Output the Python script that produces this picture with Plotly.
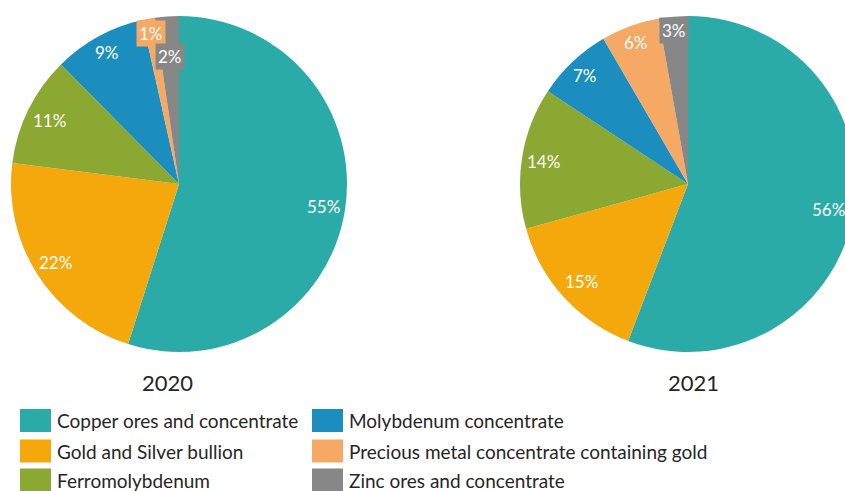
import math
import plotly.graph_objects as go

# ---------------- data ----------------
categories = [
    "Copper ores and concentrate",
    "Gold and Silver bullion",
    "Ferromolybdenum",
    "Molybdenum concentrate",
    "Precious metal concentrate containing gold",
    "Zinc ores and concentrate",
]
values_2020 = [54.9, 22.1, 10.6, 8.9, 1.2, 2.3]
values_2021 = [55.8, 14.9, 13.6, 7.3, 5.6, 2.8]
years = ["2020", "2021"]

# ---------------- style ----------------
colors = ["#2AABA8", "#F5A80C", "#8BA833", "#1B8EBF", "#F6A865", "#878787"]
FONT = "Lato"
W, H = 860, 491
R = 168
centers = [(179, 184), (688, 184)]          # pixel centres of the pies
label_r = [[0.87, 0.87, 0.86, 0.89, 0.91, 0.76],
           [0.85, 0.86, 0.87, 0.89, 0.90, 0.92]]
boxed = [[False, False, False, False, True, True],
         [False, False, False, False, False, True]]
title_pos = [(167, 382), (693, 382)]

fig = go.Figure()
annotations = []
shapes = []

for k, vals in enumerate([values_2020, values_2021]):
    cx, cy = centers[k]
    fig.add_trace(go.Pie(
        values=vals, labels=categories, sort=False, direction="clockwise",
        rotation=0, textinfo="none", hoverinfo="label+percent",
        marker=dict(colors=colors, line=dict(width=0)),
        domain=dict(x=[(cx - R) / W, (cx + R) / W],
                    y=[1 - (cy + R) / H, 1 - (cy - R) / H]),
        showlegend=False,
    ))
    total = sum(vals)
    cum = 0.0
    for i, v in enumerate(vals):
        mid = (cum + v / 2) / total * 2 * math.pi
        cum += v
        r = R * label_r[k][i]
        px = cx + r * math.sin(mid)
        py = cy - r * math.cos(mid)
        ann = dict(x=px / W, y=1 - py / H, xref="paper", yref="paper",
                   text=f"{round(v / total * 100)}%", showarrow=False,
                   font=dict(family=FONT, size=17, color="white"),
                   xanchor="center", yanchor="middle")
        if boxed[k][i]:
            ann.update(bgcolor=colors[i], borderpad=2)
        annotations.append(ann)
    tx, ty = title_pos[k]
    annotations.append(dict(x=tx / W, y=1 - ty / H, xref="paper", yref="paper",
                            text=years[k], showarrow=False,
                            font=dict(family=FONT, size=22, color="#262626"),
                            xanchor="center", yanchor="middle"))

# manual legend (two columns, row-wise like the reference)
legend_order = [0, 3, 1, 4, 2, 5]
col_x = [20, 312]
row_y = [420.5, 451, 480]
for n, idx in enumerate(legend_order):
    row, col = n // 2, n % 2
    x0 = col_x[col]
    yc = row_y[row]
    shapes.append(dict(type="rect", xref="paper", yref="paper",
                       x0=x0 / W, x1=(x0 + 31) / W,
                       y0=1 - (yc + 11.5) / H, y1=1 - (yc - 11.5) / H,
                       fillcolor=colors[idx], line=dict(width=0)))
    annotations.append(dict(x=(x0 + 35) / W, y=1 - yc / H, xref="paper", yref="paper",
                            text=categories[idx], showarrow=False,
                            font=dict(family=FONT, size=19, color="#262626"),
                            xanchor="left", yanchor="middle"))

fig.update_layout(
    width=W, height=H, margin=dict(l=0, r=0, t=0, b=0),
    paper_bgcolor="white", plot_bgcolor="white",
    annotations=annotations, shapes=shapes,
)

fig.write_html("out.html",
               post_script="document.documentElement.style.overflow='hidden';"
                           "document.body.style.overflow='hidden';document.body.style.margin='0';")
